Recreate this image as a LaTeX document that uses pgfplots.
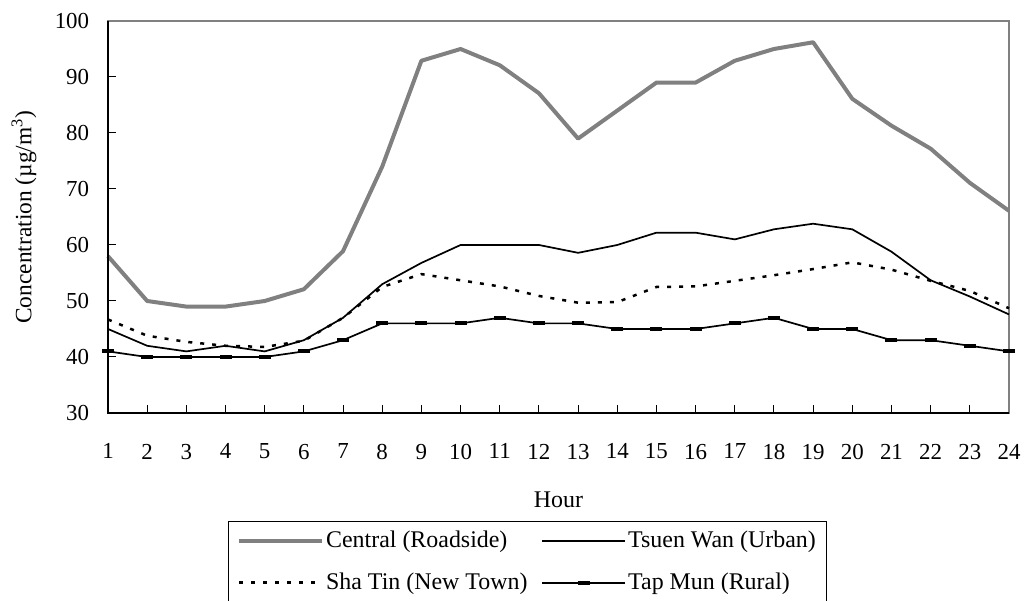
\documentclass[border=0pt]{standalone}
\usepackage{fontspec}
\setmainfont{Liberation Serif}
\usepackage{pgfplots}
\pgfplotsset{compat=1.18}
\definecolor{cgray}{RGB}{128,128,128}
\begin{document}
\fontsize{23}{27}\selectfont
\begin{tikzpicture}
\begin{axis}[
  scale only axis, width=901bp, height=392bp,
  xmin=1, xmax=24, ymin=30, ymax=100,
  xtick={1,...,24}, ytick={30,40,...,100},
  tick align=inside, major tick length=8bp,
  xtick pos=lower, ytick pos=left,
  tick style={black, line width=1bp},
  axis line style={cgray, line width=1.5bp},
  /pgf/number format/assume math mode=true,
  ticklabel style={font=\fontsize{23}{27}\selectfont},
  xticklabel shift=23bp,
  yticklabel shift=11bp,
  clip=false,
  xlabel={Hour},
  ylabel={Concentration (µg/m\textsuperscript{3})},
  xlabel style={at={(axis description cs:0.5,-0.2212)}, anchor=center, font=\fontsize{24}{28}\selectfont},
  ylabel style={at={(axis description cs:-0.0932,0.499)}, anchor=center, font=\fontsize{23.5}{28}\selectfont},
  legend columns=2,
  legend image code/.code={\draw[mark repeat=2,mark phase=2,#1] plot coordinates {(0bp,0bp) (41.5bp,0bp) (83bp,0bp)};},
  legend style={at={(axis description cs:0.1328,-0.2747)}, anchor=north west,
    draw=black, line width=1bp, font=\fontsize{24}{28}\selectfont,
    inner xsep=9bp, inner ysep=7.5bp,
    nodes={inner sep=2bp},
    row sep=18bp,
    /tikz/every even column/.append style={column sep=12bp}},
  legend cell align=left,
]
\addplot[cgray, line width=4bp, line join=round] coordinates {
(1,58.0) (2,50) (3,49) (4,49) (5,50) (6,52.1) (7,58.9) (8,74) (9,92.9) (10,95) (11,92.1) (12,87.1)
(13,79) (14,84) (15,89) (16,89) (17,92.9) (18,95) (19,96.2) (20,86.1) (21,81.3) (22,77.2) (23,71.1) (24,66.1)};
\addlegendentry{Central (Roadside)}
\addplot[black, line width=1.7bp] coordinates {
(1,45) (2,42) (3,41) (4,42) (5,41) (6,43) (7,47) (8,53) (9,56.8) (10,60) (11,60) (12,60)
(13,58.6) (14,60) (15,62.2) (16,62.2) (17,61) (18,62.8) (19,63.8) (20,62.8) (21,58.8) (22,53.7) (23,50.8) (24,47.6)};
\addlegendentry{Tsuen Wan (Urban)}
\addplot[black, line width=2.5bp, dash pattern=on 4bp off 8bp] coordinates {
(1,46.7) (2,43.8) (3,42.7) (4,42) (5,41.8) (6,42.9) (7,47) (8,52.5) (9,54.8) (10,53.7) (11,52.6) (12,50.9)
(13,49.7) (14,49.8) (15,52.5) (16,52.6) (17,53.6) (18,54.6) (19,55.7) (20,56.9) (21,55.6) (22,53.6) (23,51.8) (24,48.7)};
\addlegendentry{Sha Tin (New Town)}
\addplot[black, line width=1.7bp, mark=-, mark size=6bp, mark options={line width=4bp, solid}] coordinates {
(1,41) (2,40) (3,40) (4,40) (5,40) (6,41) (7,43) (8,46) (9,46) (10,46) (11,47) (12,46)
(13,46) (14,45) (15,45) (16,45) (17,46) (18,47) (19,45) (20,45) (21,43) (22,43) (23,42) (24,41)};
\addlegendentry{Tap Mun (Rural)}
\draw[black, line width=1.5bp] (rel axis cs:0,1) -- (rel axis cs:0,0) -- (rel axis cs:1,0);
\coordinate (ll) at (rel axis cs:0,0);
\coordinate (ur) at (rel axis cs:1,1);
\end{axis}
\pgfresetboundingbox
\path ([shift={(-108bp,-188bp)}]ll) rectangle ([shift={(17bp,21bp)}]ur);
\end{tikzpicture}
\end{document}
